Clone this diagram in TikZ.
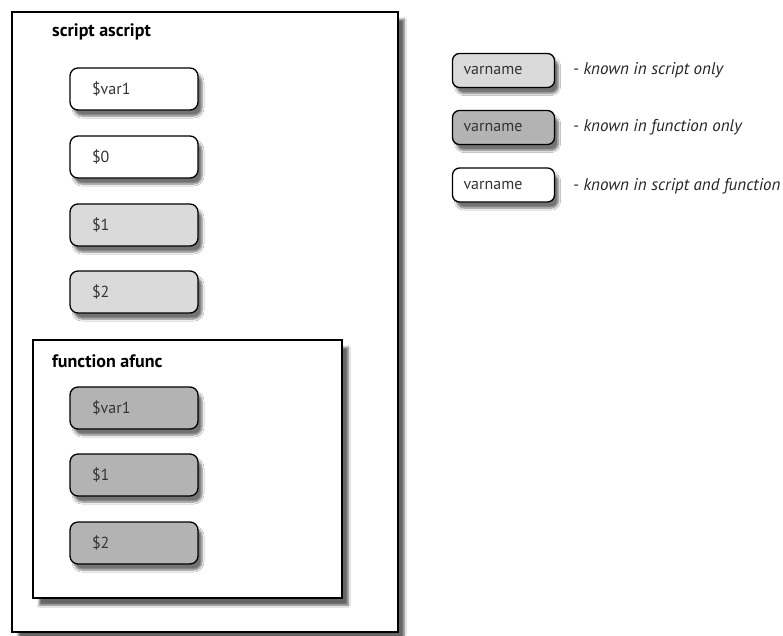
\documentclass[tikz,border=0pt]{standalone}
\usepackage{fontspec}
\setmainfont{PT Sans}
\usetikzlibrary{shadows.blur}
\definecolor{lightg}{HTML}{DADADA}
\definecolor{darkg}{HTML}{B3B3B3}
\tikzset{
  frame/.style={draw=black, line width=2.4pt, fill=white, blur shadow={shadow xshift=6pt, shadow yshift=-7pt, shadow blur steps=8, shadow blur extra rounding=0pt, shadow opacity=60}},
  varbox/.style={draw=black, line width=1.3pt, rounded corners=8pt, minimum width=128pt, minimum height=42pt, text width=84pt, align=left, inner xsep=0pt, font=\fontsize{16}{18}\selectfont\color{black!80}, blur shadow={shadow xshift=4pt, shadow yshift=-6pt, shadow blur steps=6, shadow opacity=55}},
  legbox/.style={varbox, minimum width=102pt, minimum height=34pt, text width=80pt, rounded corners=7pt},
  scr/.style={fill=lightg},
  fun/.style={fill=darkg},
  both/.style={fill=white},
  title/.style={anchor=west, font=\bfseries\fontsize{18}{20}\selectfont, inner sep=0pt},
  legtext/.style={anchor=west, font=\itshape\fontsize{17}{19}\selectfont\color{black!85}, inner sep=0pt}
}
\begin{document}
\begin{tikzpicture}[x=1pt, y=-1pt]
\useasboundingbox (0,0) rectangle (783,635);
\fill[white] (0,0) rectangle (783,635);
% outer script frame
\node[frame, minimum width=386pt, minimum height=620pt, anchor=north west, inner sep=0pt] (script) at (11,11) {};
\node[title] (stitle) at (52,32) {script ascript};
\node[varbox, both] (v1) at (134,89) {\$var1};
\node[varbox, both] (v0) at (134,157) {\$0};
\node[varbox, scr] (s1) at (134,225) {\$1};
\node[varbox, scr] (s2) at (134,292) {\$2};
% function frame
\node[frame, minimum width=309pt, minimum height=258pt, anchor=north west, inner sep=0pt] (func) at (32,339) {};
\node[title] (ftitle) at (52,361) {function afunc};
\node[varbox, fun] (fv1) at (134,408) {\$var1};
\node[varbox, fun] (f1) at (134,475) {\$1};
\node[varbox, fun] (f2) at (134,543) {\$2};
% legend
\node[legbox, scr] (l1) at (503.5,70.5) {varname};
\node[legbox, fun] (l2) at (503.5,127.5) {varname};
\node[legbox, both] (l3) at (503.5,185) {varname};
\node[legtext] (t1) at (573,70) {- known in script only};
\node[legtext] (t2) at (573,127) {- known in function only};
\node[legtext] (t3) at (573,186) {- known in script and function};
\end{tikzpicture}
\end{document}
